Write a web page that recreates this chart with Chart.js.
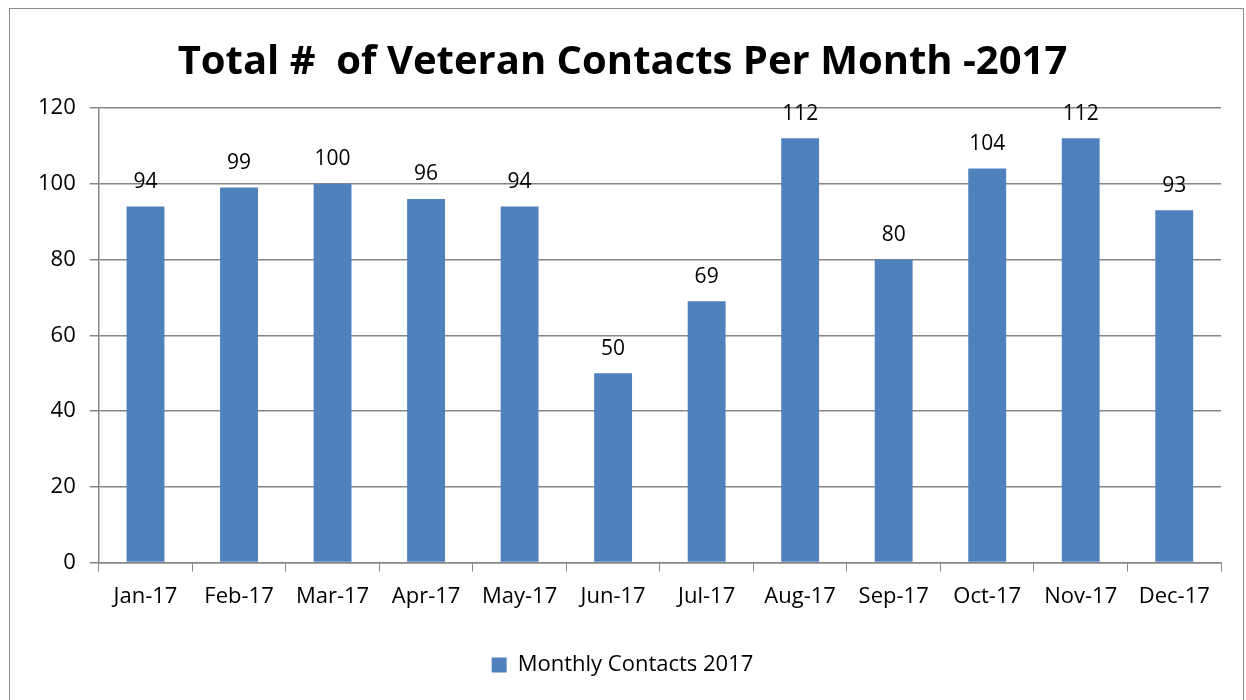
<!DOCTYPE html>
<html><head><meta charset="utf-8">
<script src="https://cdn.jsdelivr.net/npm/chart.js@4/dist/chart.umd.min.js"></script>
<style>
html,body{margin:0;padding:0;background:#fff;}
#wrap{position:absolute;left:0;top:0;width:1246px;height:700px;}
#frame{position:absolute;left:9px;top:8px;width:1235px;height:700px;border:1px solid #8c8c8c;box-sizing:border-box;pointer-events:none;}
</style></head>
<body>
<div id="wrap"><canvas id="c" width="1246" height="700"></canvas></div>
<div id="frame"></div>
<script>
const categories = ['Jan-17','Feb-17','Mar-17','Apr-17','May-17','Jun-17','Jul-17','Aug-17','Sep-17','Oct-17','Nov-17','Dec-17'];
const monthlyContacts = [94,99,100,96,94,50,69,112,80,104,112,93];
const seriesName = 'Monthly Contacts 2017';
const yTicks = [0,20,40,60,80,100,120];
const titleText = 'Total #  of Veteran Contacts Per Month -2017';

const FONT = "'Open Sans', 'DejaVu Sans', sans-serif";
const labelPlugin = {
  id:'valueLabels',
  afterDatasetsDraw(chart){
    const ctx = chart.ctx;
    ctx.save();
    ctx.font = "21px " + FONT;
    ctx.fillStyle = '#000';
    ctx.textAlign = 'center';
    ctx.textBaseline = 'bottom';
    chart.getDatasetMeta(0).data.forEach((bar,i)=>{
      ctx.fillText(String(monthlyContacts[i]), bar.x, bar.y - 14);
    });
    ctx.restore();
  }
};

new Chart(document.getElementById('c'), {
  type:'bar',
  data:{labels:categories, datasets:[{label:seriesName, data:monthlyContacts, backgroundColor:'#4f81bd', borderWidth:0, barPercentage:0.405, categoryPercentage:1}]},
  options:{
    responsive:false, animation:false,
    layout:{padding:{left:24,right:25,top:12,bottom:14}},
    plugins:{
      title:{display:true,text:titleText,color:'#000',font:{family:FONT,size:40,weight:'bold'},padding:{top:27,bottom:21}},
      legend:{position:'bottom',labels:{color:'#000',font:{family:FONT,size:22},boxWidth:15,boxHeight:15,padding:12}},
      tooltip:{enabled:false}
    },
    scales:{
      x:{grid:{drawOnChartArea:false,color:'#868686',tickLength:9,offset:true},border:{color:'#868686',width:1.5},
         ticks:{color:'#000',font:{family:FONT,size:22},padding:12,maxRotation:0},
         afterFit(s){s.height += 20;}},
      y:{min:0,max:120,afterBuildTicks(s){s.ticks=yTicks.map(v=>({value:v}));},
         grid:{color:'#868686',tickLength:9,lineWidth:1.5},border:{color:'#868686',width:1.5},
         ticks:{color:'#000',font:{family:FONT,size:22},padding:14}}
    }
  },
  plugins:[labelPlugin]
});
</script>
</body></html>
